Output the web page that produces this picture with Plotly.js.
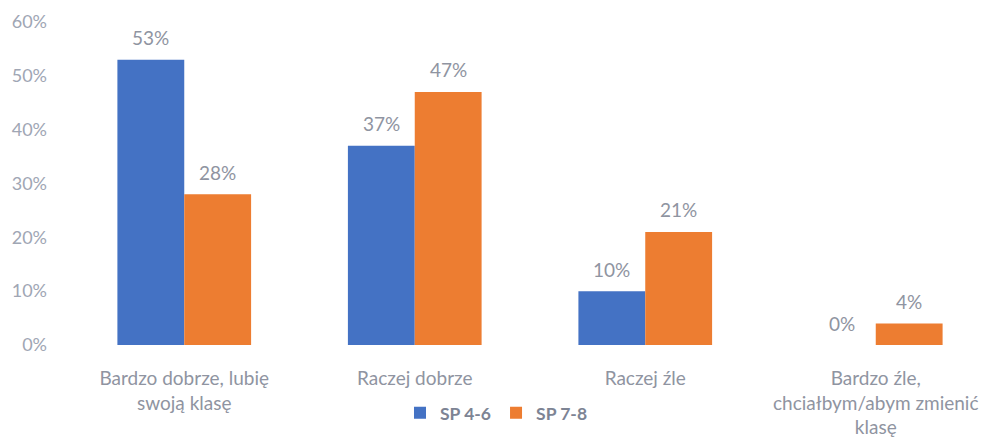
<!DOCTYPE html>
<html>
<head>
<meta charset="utf-8">
<script src="https://cdn.plot.ly/plotly-3.0.1.min.js"></script>
<style>html,body{margin:0;padding:0;background:#fff;}#chart{width:995px;height:443px;}</style>
</head>
<body>
<div id="chart"></div>
<script>
const categories = ["Bardzo dobrze, lubię<br>swoją klasę", "Raczej dobrze", "Raczej źle", "Bardzo źle,<br>chciałbym/abym zmienić<br>klasę"];
const seriesNames = ["SP 4-6", "SP 7-8"];
const sp46 = [53, 37, 10, 0];
const sp78 = [28, 47, 21, 4];
const yTickVals = [0, 10, 20, 30, 40, 50, 60];
const yTickText = ["0%", "10%", "20%", "30%", "40%", "50%", "60%"];

const grey = "#8f94a1";
const font = "Lato, 'Open Sans', sans-serif";
const bargap = 0.42;
const colors = ["#4472C4", "#ED7D31"];
const series = [sp46, sp78];

const data = series.map((vals, s) => ({
  type: "bar", name: seriesNames[s], x: categories, y: vals,
  marker: {color: colors[s]}, hoverinfo: "skip"
}));

// value labels placed above each bar via the axes' own coordinates
const barW = (1 - bargap) / 2;
const annotations = [];
series.forEach((vals, s) => {
  vals.forEach((v, i) => {
    annotations.push({
      xref: "x", yref: "y", x: i + (s - 0.5) * barW, y: v,
      text: v + "%", showarrow: false, yanchor: "middle", yshift: 22,
      font: {family: font, size: 19, color: grey}
    });
  });
});

const layout = {
  width: 995, height: 443,
  margin: {l: 69, r: 4, t: 22, b: 98, autoexpand: false},
  paper_bgcolor: "#fff", plot_bgcolor: "#fff",
  barmode: "group", bargap: bargap, bargroupgap: 0,
  font: {family: font, color: grey},
  xaxis: {
    showgrid: false, zeroline: false, showline: false, ticks: "",
    tickfont: {family: font, size: 19, color: grey},
    ticklabelstandoff: 20, automargin: false
  },
  yaxis: {
    range: [0, 60], tickvals: yTickVals, ticktext: yTickText,
    showgrid: false, zeroline: false, showline: false, ticks: "",
    tickfont: {family: font, size: 18, color: "#a0a6b4"},
    ticklabelstandoff: 21, automargin: false
  },
  annotations: annotations,
  showlegend: true,
  legend: {
    orientation: "h", x: 0.359, xanchor: "left", y: -0.21, yanchor: "middle",
    font: {family: font, size: 17.5, color: "#7d8494", weight: "bold"},
    itemwidth: 30, tracegroupgap: 0
  }
};

Plotly.newPlot("chart", data, layout, {displayModeBar: false, staticPlot: true});
</script>
</body>
</html>
